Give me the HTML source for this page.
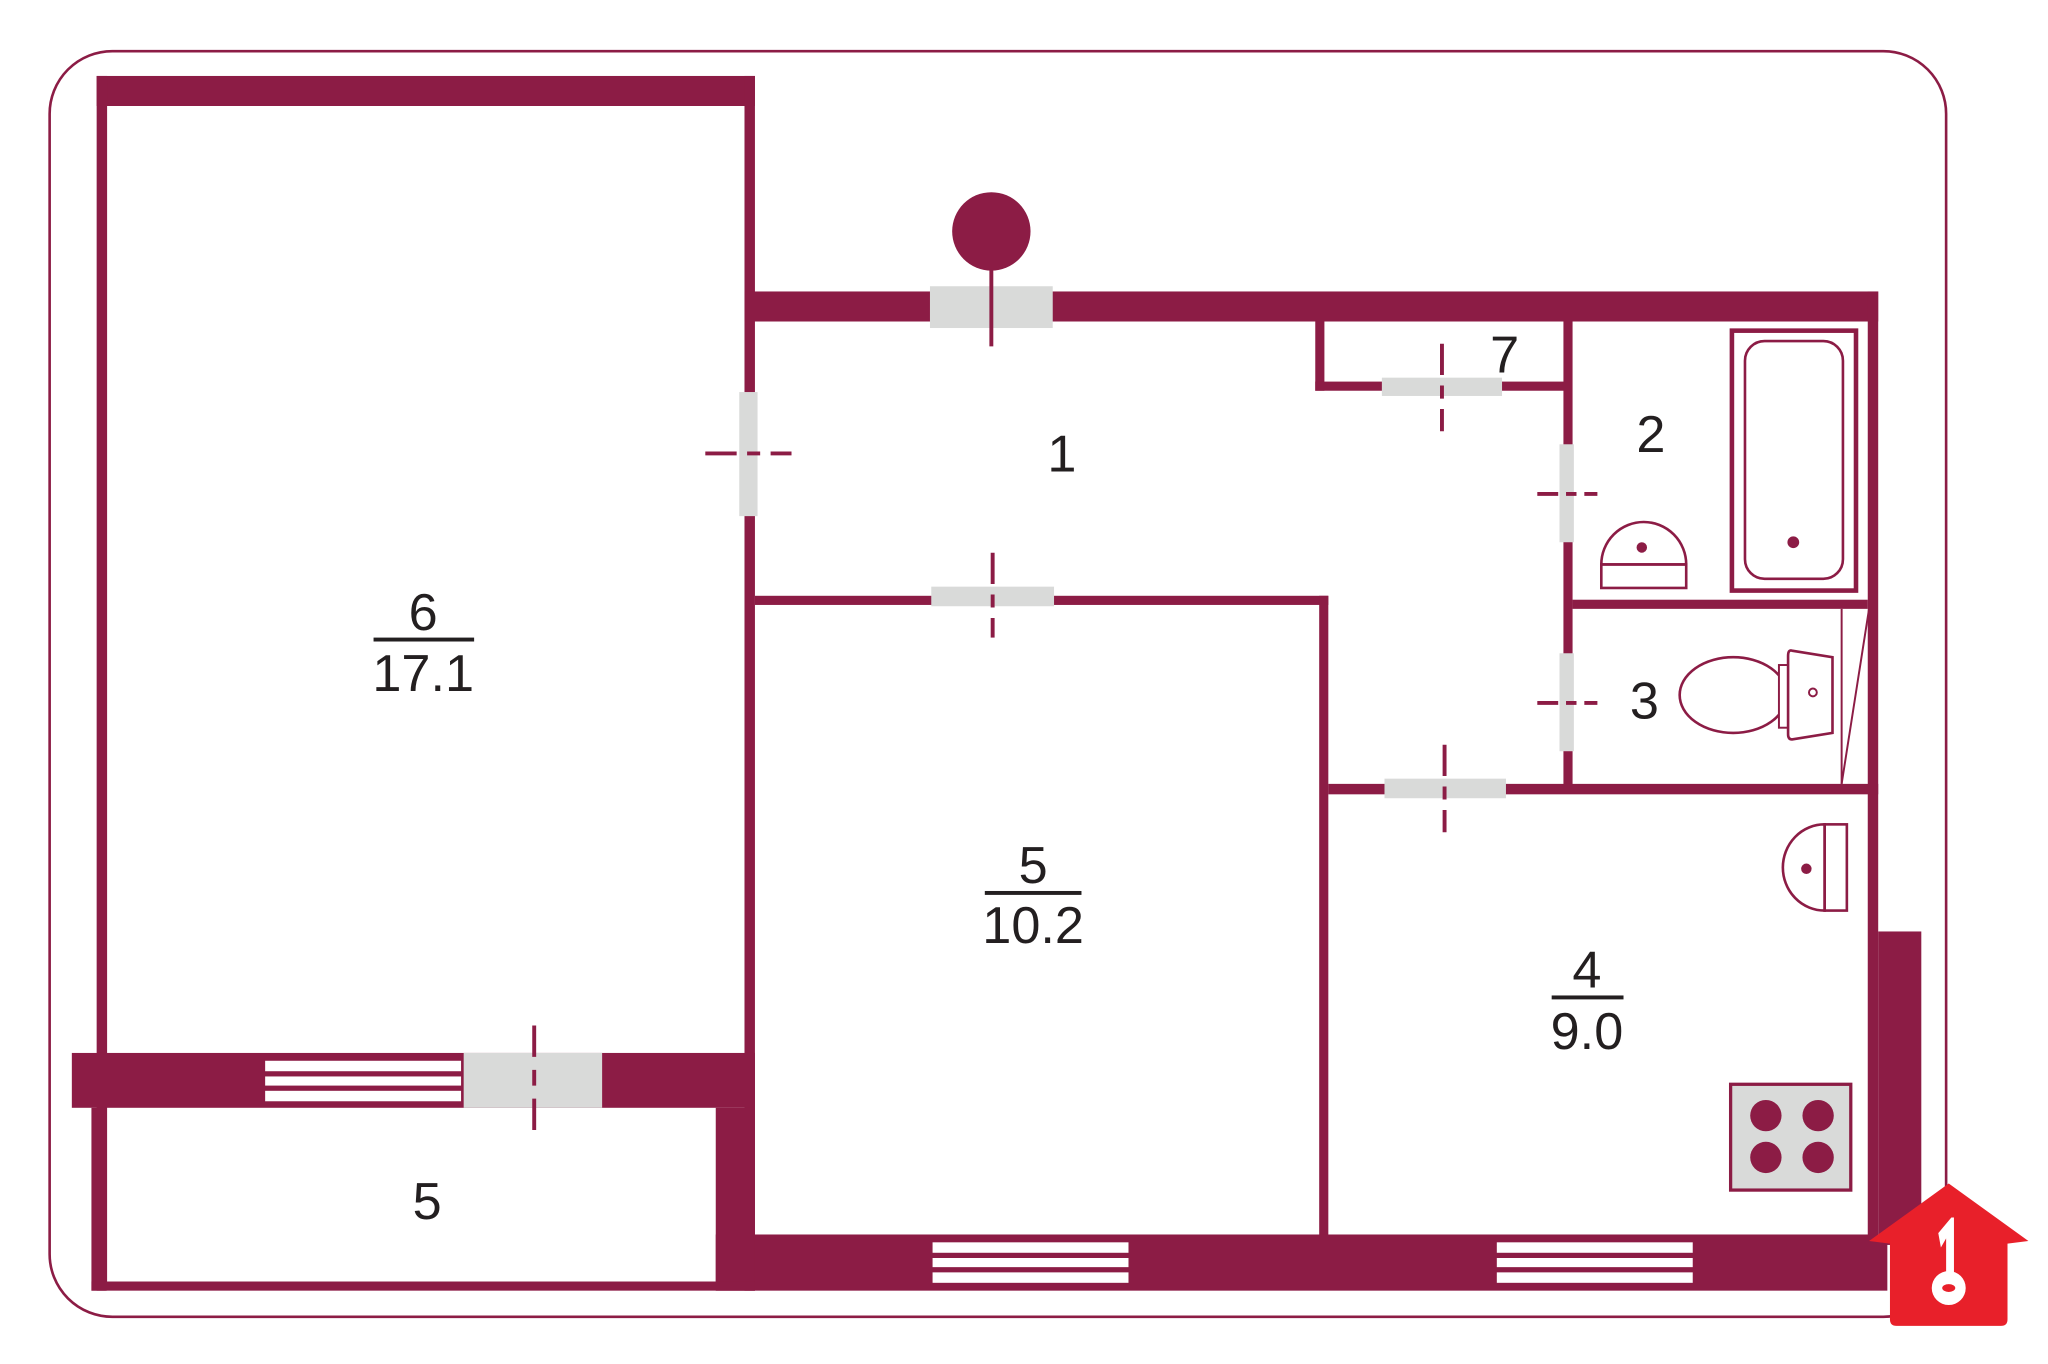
<!DOCTYPE html>
<html><head><meta charset="utf-8"><style>
html,body{margin:0;padding:0;background:#fff;}
svg{display:block;}
text{font-family:"Liberation Sans",sans-serif;fill:#231f20;}
</style></head><body>
<svg width="2048" height="1364" viewBox="0 0 1568 1044" xmlns="http://www.w3.org/2000/svg">
<rect width="1568" height="1044" fill="#fff"/>
<rect x="38" y="39" width="1452" height="969" rx="48" fill="none" stroke="#8c1c45" stroke-width="2"/>
<g fill="#8c1c45">
<!-- room 6 -->
<rect x="74" y="58" width="504" height="23"/>
<rect x="74" y="58" width="8" height="930"/>
<rect x="570" y="58" width="8" height="930"/>
<!-- top wall -->
<rect x="570" y="223" width="868" height="23"/>
<rect x="1430" y="223" width="8" height="730"/>
<rect x="1438" y="713" width="33" height="240"/>
<!-- internal -->
<rect x="578" y="456" width="439" height="7"/>
<rect x="1010" y="456" width="7" height="495"/>
<rect x="1007" y="245" width="7" height="54"/>
<rect x="1007" y="292" width="195" height="7"/>
<rect x="1197" y="245" width="7" height="360"/>
<rect x="1204" y="459" width="226" height="7"/>
<rect x="1017" y="600" width="421" height="8"/>
<!-- bottom -->
<rect x="548" y="945" width="897" height="43"/>
<!-- balcony -->
<rect x="55" y="806" width="523" height="42"/>
<rect x="70" y="848" width="11" height="140"/>
<rect x="548" y="848" width="30" height="140"/>
<rect x="70" y="981" width="508" height="7"/>
</g>
<!-- windows -->
<g fill="#fff">
<rect x="714" y="951" width="150" height="8"/><rect x="714" y="963" width="150" height="7"/><rect x="714" y="974" width="150" height="8"/>
<rect x="1146" y="951" width="150" height="8"/><rect x="1146" y="963" width="150" height="7"/><rect x="1146" y="974" width="150" height="8"/>
<rect x="203" y="812" width="150" height="8"/><rect x="203" y="824" width="150" height="7"/><rect x="203" y="835" width="150" height="8"/>
</g>
<!-- doors -->
<g fill="#d9dad9">
<rect x="712" y="219" width="94" height="32"/>
<rect x="566" y="300" width="14" height="95"/>
<rect x="713" y="449" width="94" height="15"/>
<rect x="1058" y="289" width="92" height="14"/>
<rect x="1194" y="340" width="11" height="75"/>
<rect x="1194" y="500" width="11" height="75"/>
<rect x="1060" y="596" width="93" height="15"/>
<rect x="355" y="806" width="106" height="42"/>
</g>
<g stroke="#8c1c45" stroke-width="3" fill="none">
<line x1="540" y1="347" x2="606" y2="347" stroke-dasharray="24,8,10,8"/>
<line x1="760" y1="423" x2="760" y2="488" stroke-dasharray="24,8,10,8"/>
<line x1="1104" y1="263" x2="1104" y2="330" stroke-dasharray="24,8,10,8"/>
<line x1="1177" y1="378" x2="1223" y2="378" stroke-dasharray="16,6,8,6"/>
<line x1="1177" y1="538" x2="1223" y2="538" stroke-dasharray="16,6,8,6"/>
<line x1="1106" y1="570" x2="1106" y2="637" stroke-dasharray="24,8,10,8"/>
<line x1="409" y1="785" x2="409" y2="870" stroke-dasharray="24,10,12,10"/>
<line x1="759" y1="200" x2="759" y2="265"/>
</g>
<circle cx="759" cy="177" r="30" fill="#8c1c45"/>
<!-- bath -->
<g stroke="#8c1c45" fill="none">
<rect x="1326" y="253" width="95" height="199" stroke-width="3.5"/>
<rect x="1336" y="261" width="75" height="182" rx="15" stroke-width="2"/>
<path d="M1226 432 A32 32 0 0 1 1291 432 Z" stroke-width="2"/>
<rect x="1226" y="432" width="65" height="18" stroke-width="2"/>
<ellipse cx="1327" cy="532" rx="41" ry="29" stroke-width="2"/>
<rect x="1362" y="509" width="8" height="48" stroke-width="1.5" fill="#fff"/>
<path d="M1372 498 L1403 503 L1403 561 L1372 566 Q1369 566 1369 562 L1369 502 Q1369 497 1372 498 Z" stroke-width="2" fill="#fff"/>
<circle cx="1388" cy="530" r="3" stroke-width="1.5"/>
<line x1="1410" y1="466" x2="1410" y2="600" stroke-width="1.5"/>
<line x1="1410" y1="600" x2="1431" y2="466" stroke-width="1.5"/>
<path d="M1397 631 A32 33 0 0 0 1397 697 Z" stroke-width="2"/>
<rect x="1397" y="631" width="17" height="66" stroke-width="2"/>
<rect x="1325" y="830" width="92" height="81" fill="#d9dad9" stroke-width="2.5"/>
</g>
<g fill="#8c1c45">
<circle cx="1373" cy="415" r="4.5"/>
<circle cx="1257" cy="419" r="4"/>
<circle cx="1383" cy="665" r="4"/>
<circle cx="1352" cy="854" r="12"/><circle cx="1392" cy="854" r="12"/>
<circle cx="1352" cy="886" r="12"/><circle cx="1392" cy="886" r="12"/>
</g>
<!-- labels -->
<g font-size="40" text-anchor="middle">
<text x="813" y="361">1</text>
<text x="1264" y="346">2</text>
<text x="1259" y="550">3</text>
<text x="1152" y="285">7</text>
<text x="327" y="933">5</text>
<text x="324" y="482">6</text>
<text x="324" y="529">17.1</text>
<text x="791" y="676">5</text>
<text x="791" y="722">10.2</text>
<text x="1215" y="756">4</text>
<text x="1215" y="803">9.0</text>
</g>
<g fill="#231f20">
<rect x="286" y="488" width="77" height="3"/>
<rect x="754" y="682" width="74" height="3"/>
<rect x="1188" y="762" width="55" height="3"/>
</g>
<!-- logo -->
<path d="M1492 906 L1553 950 L1537 952 L1537 1010 Q1537 1015 1532 1015 L1452 1015 Q1447 1015 1447 1010 L1447 952 L1431 950 Z" fill="#e8202a"/>
<path d="M1484 944 L1494 932 L1496 932 L1496 978 L1490 978 L1490 948 L1486 955 Z" fill="#fff"/>
<circle cx="1492" cy="986" r="13" fill="#fff"/>
<ellipse cx="1492" cy="986" rx="5" ry="3" fill="#e8202a"/>
</svg>
</body></html>
